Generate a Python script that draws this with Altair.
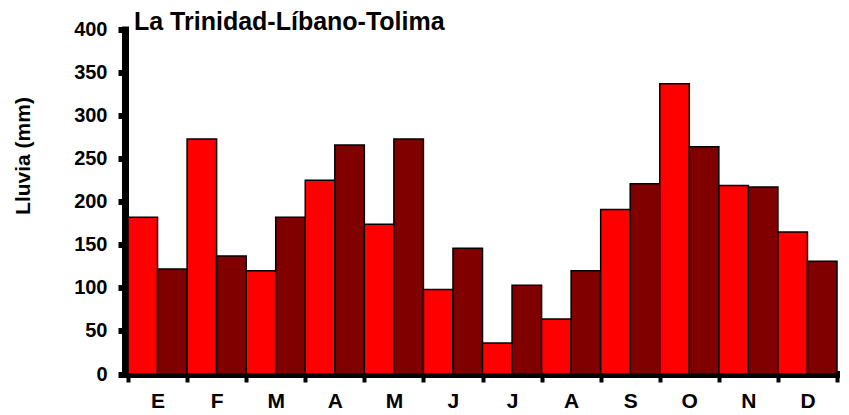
import altair as alt
import pandas as pd

months = ["E", "F", "M", "A", "M", "J", "J", "A", "S", "O", "N", "D"]
series = ["Serie 1", "Serie 2"]
serie1 = [182, 273, 120, 225, 174, 98, 36, 64, 191, 337, 219, 165]
serie2 = [122, 137, 182, 266, 273, 146, 103, 120, 221, 264, 217, 131]
colors = ["#FF0000", "#800000"]
y_ticks = [0, 50, 100, 150, 200, 250, 300, 350, 400]

rows = []
for i in range(len(months)):
    rows.append({"mes": i, "serie": series[0], "lluvia": serie1[i]})
    rows.append({"mes": i, "serie": series[1], "lluvia": serie2[i]})
df = pd.DataFrame(rows)

label_expr = "[" + ",".join("'%s'" % m for m in months) + "][datum.value]"
FONT = "Liberation Sans"

chart = alt.Chart(df).mark_bar(stroke="black", strokeWidth=1.5).encode(
    x=alt.X(
        "mes:O",
        scale=alt.Scale(paddingInner=0, paddingOuter=0),
        axis=alt.Axis(
            title=None, labelExpr=label_expr, labelAngle=0, tickBand="extent",
            domainWidth=7, domainColor="black", domainCap="square",
            tickWidth=4, tickSize=8, tickColor="black",
            labelFont=FONT, labelFontSize=21, labelFontWeight="bold",
            labelColor="black", labelPadding=8,
        ),
    ),
    xOffset=alt.XOffset("serie:N", sort=series,
                        scale=alt.Scale(paddingInner=0, paddingOuter=0)),
    y=alt.Y(
        "lluvia:Q",
        scale=alt.Scale(domain=[0, 400], nice=False),
        axis=alt.Axis(
            title="Lluvia (mm)", values=y_ticks, grid=False, offset=3,
            domainWidth=7, domainColor="black", domainCap="square",
            tickWidth=6, tickSize=7, tickColor="black",
            labelFont=FONT, labelFontSize=20, labelFontWeight="bold",
            labelColor="black", labelPadding=11,
            titleFont=FONT, titleFontSize=21, titleFontWeight="bold",
            titleColor="black", titleX=-92, titleY=126, titleAngle=270,
            titleBaseline="bottom", titleAlign="center",
        ),
    ),
    color=alt.Color("serie:N", scale=alt.Scale(domain=series, range=colors), legend=None),
).properties(
    width=709,
    height=344.5,
    title=alt.TitleParams(
        "La Trinidad-Líbano-Tolima", anchor="start", frame="group", fontSize=25,
        font=FONT, fontWeight="bold", color="black", dx=6, dy=36, offset=1,
        baseline="alphabetic",
    ),
    autosize=alt.AutoSizeParams(type="none"),
    padding={"left": 120, "top": 21.5, "right": 3, "bottom": 36},
).configure(background="white").configure_view(stroke=None)

chart.save("out.html", embed_options={"renderer": "svg", "actions": False})
